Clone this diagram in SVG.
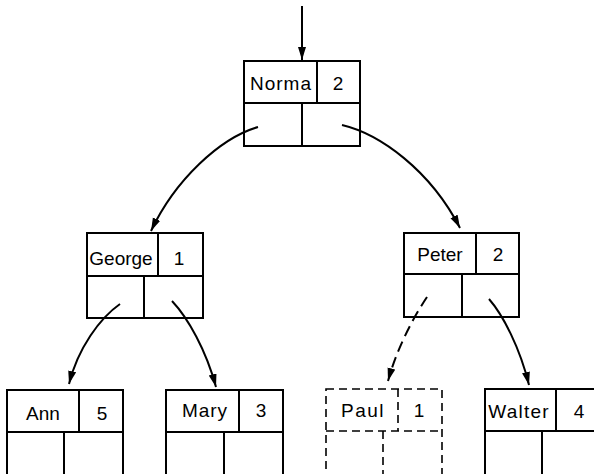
<svg xmlns="http://www.w3.org/2000/svg" width="594" height="474" viewBox="0 0 594 474">
<defs>
<style>
.box{fill:none;stroke:#000;stroke-width:2}
.dash{fill:none;stroke:#000;stroke-width:1.6;stroke-dasharray:8 5}
.conn{fill:none;stroke:#000;stroke-width:2}
.dconn{fill:none;stroke:#000;stroke-width:2;stroke-dasharray:11 6}
text{font-family:"Liberation Sans",Arial,sans-serif;font-size:19px;fill:#000;text-anchor:middle}
</style>
<marker id="ah" markerUnits="userSpaceOnUse" markerWidth="14" markerHeight="10" refX="13" refY="4" orient="auto">
<path d="M0,0 L13,4 L0,8 z" fill="#000"/>
</marker>
</defs>
<rect width="594" height="474" fill="#fff"/>
<g id="connectors">
<line class="conn" x1="302" y1="6" x2="302" y2="60" marker-end="url(#ah)"/>
<path class="conn" d="M258,127 C220,138 175,180 151,231" marker-end="url(#ah)"/>
<path class="conn" d="M342,125 C380,134 430,170 460,228" marker-end="url(#ah)"/>
<path class="conn" d="M120,304 C100,318 78,348 69,384" marker-end="url(#ah)"/>
<path class="conn" d="M172,301 C188,318 206,350 216,387" marker-end="url(#ah)"/>
<path class="dconn" d="M427,297 C415,315 398,345 388,381" marker-end="url(#ah)"/>
<path class="conn" d="M489,299 C503,315 520,348 529,385" marker-end="url(#ah)"/>
</g>
<g id="norma">
<rect class="box" x="244" y="61" width="116" height="85"/>
<line class="box" x1="244" y1="103" x2="360" y2="103"/>
<line class="box" x1="317" y1="61" x2="317" y2="103"/>
<line class="box" x1="302" y1="103" x2="302" y2="146"/>
<text x="281" y="90" letter-spacing="1">Norma</text>
<text x="338" y="90">2</text>
</g>
<g id="george">
<rect class="box" x="87" y="233" width="116" height="85"/>
<line class="box" x1="87" y1="276" x2="203" y2="276"/>
<line class="box" x1="158" y1="233" x2="158" y2="276"/>
<line class="box" x1="144" y1="276" x2="144" y2="318"/>
<text x="121" y="265">George</text>
<text x="179" y="265">1</text>
</g>
<g id="peter">
<rect class="box" x="404" y="233" width="115" height="84"/>
<line class="box" x1="404" y1="274" x2="519" y2="274"/>
<line class="box" x1="476" y1="233" x2="476" y2="274"/>
<line class="box" x1="462" y1="274" x2="462" y2="317"/>
<text x="440" y="261">Peter</text>
<text x="498" y="261">2</text>
</g>
<g id="ann">
<rect class="box" x="7" y="390" width="116" height="92"/>
<line class="box" x1="7" y1="432" x2="123" y2="432"/>
<line class="box" x1="79" y1="390" x2="79" y2="432"/>
<line class="box" x1="64" y1="432" x2="64" y2="482"/>
<text x="43" y="420">Ann</text>
<text x="102" y="420">5</text>
</g>
<g id="mary">
<rect class="box" x="166" y="390" width="117" height="92"/>
<line class="box" x1="166" y1="432" x2="283" y2="432"/>
<line class="box" x1="239" y1="390" x2="239" y2="432"/>
<line class="box" x1="224" y1="432" x2="224" y2="482"/>
<text x="205" y="417" letter-spacing="1">Mary</text>
<text x="261" y="417">3</text>
</g>
<g id="paul">
<rect class="dash" x="326" y="389" width="116" height="93"/>
<line class="dash" x1="326" y1="431" x2="442" y2="431"/>
<line class="dash" x1="398" y1="389" x2="398" y2="431"/>
<line class="dash" x1="383" y1="431" x2="383" y2="482"/>
<text x="363" y="417" letter-spacing="1.5">Paul</text>
<text x="419" y="417">1</text>
</g>
<g id="walter">
<rect class="box" x="485" y="389" width="116" height="93"/>
<line class="box" x1="485" y1="431" x2="601" y2="431"/>
<line class="box" x1="556" y1="389" x2="556" y2="431"/>
<line class="box" x1="542" y1="431" x2="542" y2="482"/>
<text x="519" y="418" letter-spacing="1.2">Walter</text>
<text x="579" y="418">4</text>
</g>
</svg>
